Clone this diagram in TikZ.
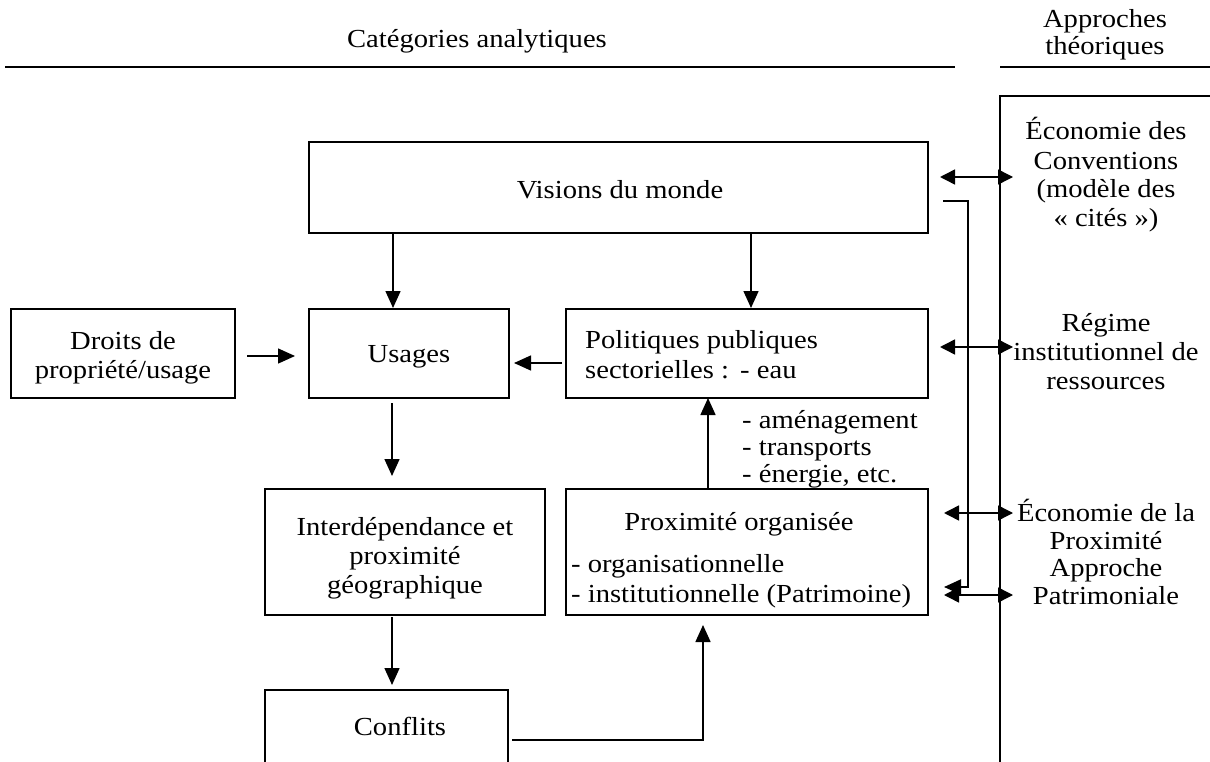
\documentclass[tikz,border=0pt]{standalone}
\usepackage{fontspec}
\setmainfont[FakeStretch=1.1]{Liberation Serif}
\usetikzlibrary{arrows.meta}
\begin{document}
\begin{tikzpicture}[x=1pt,y=-1pt,
  box/.style={draw, line width=2pt, rectangle, inner sep=0pt, outer sep=0pt},
  txt/.style={inner sep=0pt, font=\fontsize{26}{30}\selectfont},
  arr/.style={line width=1.5pt, -{Triangle[length=17pt,width=15pt]}},
  dbl/.style={line width=1.5pt, {Triangle[length=15pt,width=15pt]}-{Triangle[length=15pt,width=15pt]}},
  rulel/.style={line width=2pt}]
\useasboundingbox (0,0) rectangle (1210,762);

% headers
\node[txt, anchor=mid] (hcat) at (477,45) {Catégories analytiques};
\node[txt, anchor=mid] (happ1) at (1105,25) {Approches};
\node[txt, anchor=mid] (happ2) at (1105,52) {théoriques};
\draw[rulel] (5,67) -- (955,67);
\draw[rulel] (1000,67) -- (1210,67);
\draw[rulel] (1210,96) -- (1000,96) -- (1000,775);

% boxes
\node[box, minimum width=619pt, minimum height=91pt] (visions) at (618.5,187.5) {};
\node[box, minimum width=224pt, minimum height=89pt] (droits) at (123,353.5) {};
\node[box, minimum width=200pt, minimum height=89pt] (usages) at (409,353.5) {};
\node[box, minimum width=362pt, minimum height=89pt] (polit) at (747,353.5) {};
\node[box, minimum width=280pt, minimum height=126pt] (interd) at (405,552) {};
\node[box, minimum width=362pt, minimum height=126pt] (prox) at (747,552) {};
\node[box, minimum width=243pt, minimum height=110pt] (conflits) at (386.5,745) {};

% box texts
\node[txt, anchor=mid] (tvis) at (620,196) {Visions du monde};
\node[txt, anchor=mid] (tdr1) at (123,347) {Droits de};
\node[txt, anchor=mid] (tdr2) at (123,376) {propriété/usage};
\node[txt, anchor=mid] (tus) at (409,360) {Usages};
\node[txt, anchor=mid west] (tpo1) at (585,346) {Politiques publiques};
\node[txt, anchor=mid west] (tpo2) at (585,376) {sectorielles :};
\node[txt, anchor=mid west] (tpo3) at (740,376) {- eau};
\node[txt, anchor=mid west] (tl1) at (742,426) {- aménagement};
\node[txt, anchor=mid west] (tl2) at (742,453) {- transports};
\node[txt, anchor=mid west] (tl3) at (742,480) {- énergie, etc.};
\node[txt, anchor=mid] (tin1) at (405,533) {Interdépendance et};
\node[txt, anchor=mid] (tin2) at (405,562) {proximité};
\node[txt, anchor=mid] (tin3) at (405,591) {géographique};
\node[txt, anchor=mid] (tpr1) at (739,528) {Proximité organisée};
\node[txt, anchor=mid west] (tpr2) at (571,570) {- organisationnelle};
\node[txt, anchor=mid west] (tpr3) at (571,600) {- institutionnelle (Patrimoine)};
\node[txt, anchor=mid] (tco) at (400,733) {Conflits};

% right column texts
\node[txt, anchor=mid] (r1) at (1106,137) {Économie des};
\node[txt, anchor=mid] (r2) at (1106,167) {Conventions};
\node[txt, anchor=mid] (r3) at (1106,195) {(modèle des};
\node[txt, anchor=mid] (r4) at (1106,224) {«~cités~»)};
\node[txt, anchor=mid] (r5) at (1106,329) {Régime};
\node[txt, anchor=mid] (r6) at (1106,358) {institutionnel de};
\node[txt, anchor=mid] (r7) at (1106,387) {ressources};
\node[txt, anchor=mid] (r8) at (1106,519) {Économie de la};
\node[txt, anchor=mid] (r9) at (1106,547) {Proximité};
\node[txt, anchor=mid] (r10) at (1106,574) {Approche};
\node[txt, anchor=mid] (r11) at (1106,602) {Patrimoniale};

% helper coordinates
\coordinate (xa) at (393,0);
\coordinate (xb) at (751,0);
\coordinate (xc) at (392,0);
\coordinate (xd) at (708,0);
\coordinate (xe) at (703,0);
\coordinate (ya) at (0,356);
\coordinate (yb) at (0,363);
\coordinate (ye) at (0,740);
\coordinate (rc) at (1013,0);
\coordinate (y1) at (0,177);
\coordinate (y2) at (0,347);
\coordinate (y3) at (0,513);
\coordinate (y4) at (0,595);
\coordinate (bk1) at (943,201);
\coordinate (bk3) at (968,587);

% connectors
\draw[arr, shorten >=1pt] (visions.south -| xa) -- (usages.north -| xa);
\draw[arr, shorten >=1pt] (visions.south -| xb) -- (polit.north -| xb);
\draw[arr, shorten <=12pt, shorten >=14pt] (droits.east |- ya) -- (usages.west |- ya);
\draw[arr, shorten <=4pt, shorten >=5pt] (polit.west |- yb) -- (usages.east |- yb);
\draw[arr, shorten <=5pt, shorten >=13pt] (usages.south -| xc) -- (interd.north -| xc);
\draw[arr, shorten <=2pt, shorten >=5pt] (interd.south -| xc) -- (conflits.north -| xc);
\draw[arr] (prox.north -| xd) -- (polit.south -| xd);
\draw[arr, shorten <=4pt, shorten >=10pt] (conflits.east |- ye) -| (prox.south -| xe);

\draw[dbl, shorten <=12pt] (visions.east |- y1) -- (rc |- y1);
\draw[dbl, shorten <=12pt] (polit.east |- y2) -- (rc |- y2);
\draw[dbl, shorten <=16pt] (prox.east |- y3) -- (rc |- y3);
\draw[dbl, shorten <=16pt] (prox.east |- y4) -- (rc |- y4);
\draw[arr, line width=2pt, shorten >=16pt] (bk1) -| (bk3) -- (prox.east |- bk3);
\end{tikzpicture}
\end{document}
